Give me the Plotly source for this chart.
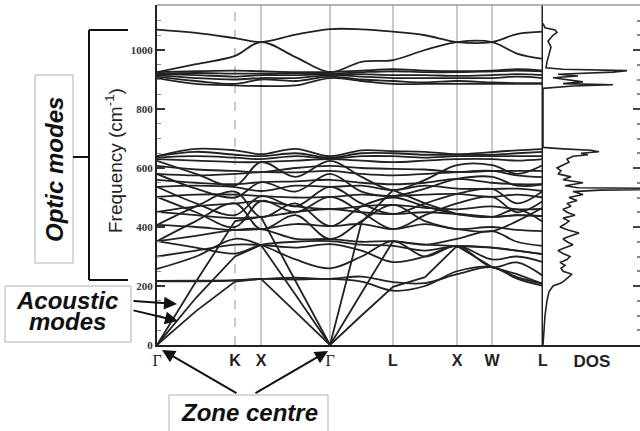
import plotly.graph_objects as go

# ---------------- data ----------------
# k-path node positions (Γ, mid, K, X, mid, Γ, mid, L, mid, X, W, mid, L)
k_nodes = [0, 39, 78, 104, 138.5, 173, 204.5, 236, 268, 300, 335, 360, 386]
k_tick_pos = [0, 78, 104, 173, 236, 300, 335, 386]
k_tick_labels = ["Γ", "K", "X", "Γ", "L", "X", "W", "L"]
k_grid_solid = [104, 173, 236, 300, 335]
k_grid_dashed = [78]
k_dos_edge = 386

acoustic = [
    [0, 115, 215, 224, 112, 0, 100, 197, 230, 336, 264, 240, 207],
    [0, 160, 300, 339, 170, 0, 176, 352, 340, 336, 330, 320, 308],
    [0, 215, 420, 434, 217, 0, 416, 525, 480, 444, 434, 440, 437],
]

optic_low = [
    [217, 218, 220, 224, 228, 224, 232, 213, 210, 240, 264, 230, 207],
    [217, 216, 218, 224, 222, 224, 215, 184, 200, 250, 264, 225, 200],
    [258, 300, 360, 339, 290, 260, 300, 352, 300, 336, 264, 280, 234],
    [300, 320, 340, 339, 330, 342, 320, 281, 300, 336, 290, 300, 281],
    [352, 330, 310, 339, 350, 352, 340, 336, 320, 336, 330, 320, 308],
    [352, 370, 390, 393, 360, 359, 350, 352, 340, 360, 386, 350, 336],
    [352, 420, 480, 393, 440, 359, 420, 475, 420, 393, 386, 420, 466],
    [407, 400, 390, 393, 410, 403, 410, 393, 410, 393, 400, 390, 386],
    [407, 470, 520, 434, 480, 403, 470, 500, 470, 444, 434, 460, 417],
    [451, 440, 430, 434, 450, 461, 450, 444, 450, 444, 434, 440, 437],
    [451, 470, 480, 488, 470, 461, 470, 475, 465, 460, 470, 460, 461],
    [502, 450, 400, 488, 450, 502, 450, 393, 440, 480, 502, 450, 488],
    [502, 510, 510, 505, 500, 502, 510, 505, 510, 512, 502, 510, 500],
    [536, 480, 440, 505, 470, 536, 480, 444, 480, 512, 529, 480, 522],
    [536, 540, 535, 522, 540, 536, 540, 525, 540, 530, 529, 530, 522],
    [560, 550, 545, 552, 555, 560, 550, 545, 550, 563, 550, 545, 545],
    [580, 530, 500, 552, 520, 580, 520, 505, 530, 563, 570, 540, 545],
    [580, 575, 580, 586, 585, 590, 580, 575, 580, 586, 590, 575, 569],
    [607, 595, 590, 586, 600, 607, 600, 597, 595, 586, 590, 590, 590],
    [624, 580, 540, 620, 570, 624, 570, 525, 560, 610, 610, 580, 610],
    [630, 625, 620, 620, 625, 630, 625, 620, 625, 630, 630, 625, 630],
    [635, 640, 635, 630, 640, 632, 640, 640, 635, 640, 640, 640, 640],
    [640, 655, 645, 640, 650, 635, 650, 650, 645, 645, 645, 650, 655],
    [640, 665, 660, 647, 665, 640, 660, 657, 655, 647, 654, 660, 664],
]

optic_high = [
    [925, 928, 930, 928, 925, 925, 930, 935, 930, 928, 930, 935, 930],
    [920, 922, 920, 920, 922, 920, 925, 928, 925, 925, 928, 930, 928],
    [918, 915, 910, 915, 915, 918, 918, 915, 915, 912, 915, 918, 915],
    [915, 905, 900, 905, 905, 915, 910, 905, 905, 905, 905, 910, 905],
    [910, 895, 885, 900, 895, 910, 900, 895, 890, 895, 890, 888, 888],
    [905, 885, 880, 878, 880, 905, 895, 885, 885, 885, 885, 885, 885],
]

top_pair = [
    [1069, 1058, 1040, 1027, 1052, 1071, 1070, 1062, 1050, 1027, 1027, 1054, 1062],
    [925, 952, 980, 1027, 976, 925, 960, 966, 1000, 1027, 1027, 988, 970],
]

dos_freq = [0, 50, 100, 150, 180, 200, 210, 220, 230, 240, 250, 260, 270, 280, 290,
            300, 310, 320, 330, 340, 350, 360, 370, 380, 390, 400, 410, 420, 430,
            440, 450, 460, 470, 480, 490, 500, 510, 520, 525, 529, 533, 540, 550,
            560, 570, 580, 590, 600, 610, 620, 630, 640, 645, 650, 655, 660, 665,
            670, 870, 878, 882, 886, 892, 900, 906, 912, 918, 925, 930, 935, 940,
            960, 990, 1010, 1030, 1050, 1060, 1068, 1075, 1090]
dos_val = [0, 1, 2, 4, 6, 10, 18, 22, 25, 29, 20, 18, 22, 17, 24,
           27, 20, 15, 22, 30, 24, 20, 28, 36, 25, 17, 22, 26, 20,
           32, 24, 20, 28, 24, 34, 26, 40, 30, 57, 200, 35, 22, 40,
           20, 28, 15, 18, 14, 20, 26, 24, 30, 45, 38, 56, 48, 20,
           0, 0, 30, 70, 20, 40, 25, 10, 35, 15, 70, 84, 20, 3,
           4, 6, 8, 5, 10, 14, 12, 2, 0]

y_ticks = [0, 200, 400, 600, 800, 1000]

# ---------------- figure ----------------
W, H = 640, 431
L_PX, R_PX, T_PX, B_PX = 157, 640, 5, 345


def px(xp):
    return (xp - L_PX) / (R_PX - L_PX)


def py(yp):
    return (B_PX - yp) / (B_PX - T_PX)


band_col = "#222222"
fig = go.Figure()
for b in acoustic:
    fig.add_trace(go.Scatter(x=k_nodes, y=b, mode="lines", xaxis="x", yaxis="y",
                             line=dict(color=band_col, width=1.8),
                             showlegend=False, hoverinfo="skip"))
for group in (optic_low, optic_high, top_pair):
    for b in group:
        fig.add_trace(go.Scatter(x=k_nodes, y=b, mode="lines", xaxis="x", yaxis="y",
                                 line=dict(color=band_col, width=1.8, shape="spline", smoothing=1.0),
                                 showlegend=False, hoverinfo="skip"))
fig.add_trace(go.Scatter(x=dos_val, y=dos_freq, mode="lines", xaxis="x2", yaxis="y2",
                         line=dict(color=band_col, width=1.6),
                         showlegend=False, hoverinfo="skip"))

split = (543 - L_PX) / (R_PX - L_PX)
yr = [0, (B_PX - T_PX) / 0.295]

gamma = "<span style='font-family:Liberation Serif;font-weight:normal'>Γ</span>"
ticktext = [gamma if t == "Γ" else t for t in k_tick_labels]

fig.update_layout(
    width=W, height=H,
    margin=dict(l=L_PX, r=W - R_PX, t=T_PX, b=H - B_PX, pad=0),
    paper_bgcolor="white", plot_bgcolor="white",
    xaxis=dict(domain=[0, split], range=[0, 386], tickvals=k_tick_pos, ticktext=ticktext,
               showgrid=False, zeroline=False, showline=True, linecolor="#222", linewidth=2,
               ticks="", tickfont=dict(family="Liberation Sans", size=16, color="#222", weight="bold"),
               automargin=False, anchor="y", fixedrange=True),
    yaxis=dict(domain=[0, 1], range=yr, tickvals=y_ticks, ticks="inside", ticklen=8,
               tickwidth=1.5, tickcolor="#333", showgrid=False, zeroline=False,
               showline=True, linecolor="#222", linewidth=2,
               tickfont=dict(family="Liberation Serif", size=11, color="#333", weight="bold"),
               minor=dict(dtick=50, ticks="inside", ticklen=4, tickcolor="#888", tickwidth=1),
               automargin=False, anchor="x", fixedrange=True),
    xaxis2=dict(domain=[split, 1], range=[0, 97], tickvals=[49], ticktext=["DOS"],
                showgrid=False, zeroline=False, showline=True, linecolor="#222", linewidth=2,
                ticks="", tickfont=dict(family="Liberation Sans", size=17, color="#222", weight="bold"),
                automargin=False, anchor="y2", fixedrange=True),
    yaxis2=dict(domain=[0, 1], range=yr, matches="y", anchor="x2", side="right",
                tickvals=y_ticks, ticks="inside", ticklen=7, tickcolor="#444", tickwidth=1.5,
                showticklabels=False, showgrid=False, zeroline=False, showline=False,
                minor=dict(dtick=50, ticks="inside", ticklen=3, tickcolor="#888"),
                automargin=False, fixedrange=True),
)

shapes = []
for xv in k_grid_solid:
    shapes.append(dict(type="line", xref="x", yref="paper", x0=xv, x1=xv, y0=0, y1=1,
                       line=dict(color="#b8b8b8", width=1.5), layer="below"))
for xv in k_grid_dashed:
    shapes.append(dict(type="line", xref="x", yref="paper", x0=xv, x1=xv, y0=0, y1=1,
                       line=dict(color="#b8b8b8", width=1.5, dash="dash"), layer="below"))
shapes.append(dict(type="line", xref="x", yref="paper", x0=k_dos_edge, x1=k_dos_edge, y0=0, y1=1,
                   line=dict(color="#222", width=3)))
shapes.append(dict(type="line", xref="paper", yref="paper", x0=0, x1=1, y0=1, y1=1,
                   line=dict(color="#999", width=1.5)))


def rect(x0, y0, x1, y1, col="#b0b0b0"):
    return dict(type="rect", xref="paper", yref="paper", x0=px(x0), x1=px(x1), y0=py(y1), y1=py(y0),
                line=dict(color=col, width=1), fillcolor="white", layer="above")


shapes.append(rect(35, 75, 73, 263))
shapes.append(rect(5, 286, 131, 342))
shapes.append(rect(169, 395, 328, 434))


def seg(x0, y0, x1, y1):
    return dict(type="line", xref="paper", yref="paper", x0=px(x0), x1=px(x1), y0=py(y0), y1=py(y1),
                line=dict(color="#111", width=2))


shapes += [seg(89, 30, 89, 280), seg(89, 30, 128, 30), seg(89, 280, 128, 280), seg(73, 157, 89, 157)]
fig.update_layout(shapes=shapes)

lab_font = dict(family="Liberation Sans", size=24, color="#111")


def label(text, x, y, font, angle=0):
    return dict(text=text, x=px(x), y=py(y), xref="paper", yref="paper", xanchor="center",
                yanchor="middle", textangle=angle, showarrow=False, font=font)


ann = [
    label("Frequency (cm<sup>-1</sup>)", 114, 161, dict(family="Liberation Sans", size=19, color="#222"), -90),
    label("<b><i>Optic modes</i></b>", 54, 170, lab_font, -90),
    label("<b><i>Acoustic</i></b>", 67, 300, lab_font),
    label("<b><i>modes</i></b>", 67, 321, lab_font),
    label("<b><i>Zone centre</i></b>", 249, 412, lab_font),
]


def arrow(tx, ty, hx, hy):
    return dict(text="", x=px(hx), y=py(hy), xref="paper", yref="paper", showarrow=True,
                ax=tx - hx, ay=ty - hy, axref="pixel", ayref="pixel",
                arrowhead=2, arrowsize=1.3, arrowwidth=2, arrowcolor="#111", standoff=0)


ann += [arrow(132, 301, 177, 304), arrow(132, 310, 178, 321),
        arrow(238, 394, 162, 350), arrow(254, 394, 328, 351)]
fig.update_layout(annotations=ann)

fig.write_html("out.html")
